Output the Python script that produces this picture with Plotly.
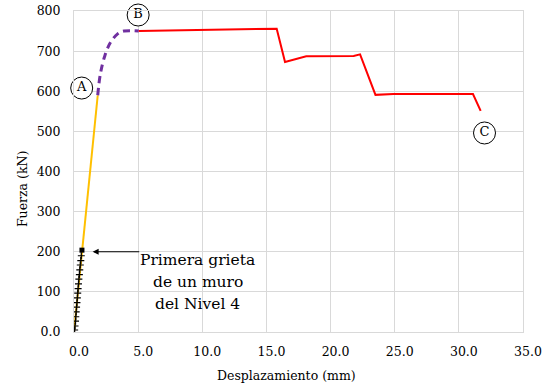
import plotly.graph_objects as go

# Elastic branch (first cracking up to point A)
elastic_disp = [0.0, 0.62, 1.85]
elastic_force = [0, 203, 590]

# Readings up to the first crack in a Level 4 wall
crack_disp = [0.05, 0.08, 0.12, 0.14, 0.17, 0.20, 0.23, 0.26, 0.29, 0.32,
              0.35, 0.38, 0.42, 0.45, 0.49, 0.53, 0.57]
crack_force = [5, 15, 27, 38, 50, 62, 73, 85, 97, 108,
               120, 132, 143, 155, 167, 178, 190]
first_crack_disp = [0.62]
first_crack_force = [204]

# Hardening branch A -> B
hard_disp = [1.85, 2.05, 2.4, 2.85, 3.4, 3.9, 5.05]
hard_force = [590, 642, 688, 722, 743, 750, 750]

# Post-peak branch B -> C
post_disp = [5.05, 10.0, 15.8, 16.45, 18.1, 21.8, 22.3, 23.5, 24.9, 31.1, 31.7]
post_force = [750, 753, 756, 673, 687, 688, 692, 591, 593, 593, 551]

# Point labels
point_names = ["A", "B", "C"]
point_disp = [0.6, 5.0, 32.0]
point_force = [608, 790, 496]

x_ticks = [0, 5, 10, 15, 20, 25, 30, 35]
x_ticktext = ["0.0", "5.0", "10.0", "15.0", "20.0", "25.0", "30.0", "35.0"]
y_ticks = [0, 100, 200, 300, 400, 500, 600, 700, 800]
y_ticktext = ["0.0", "100", "200", "300", "400", "500", "600", "700", "800"]

note_lines = ["Primera grieta", "de un muro", "del Nivel 4"]
x_title = "Desplazamiento (mm)"
y_title = "Fuerza (kN)"

SERIF = "DejaVu Serif"
GRID = "#d9d9d9"
TICK_SIZE = 12.5

fig = go.Figure()

fig.add_trace(go.Scatter(x=elastic_disp, y=elastic_force, mode="lines",
                         line=dict(color="#FFC000", width=2), hoverinfo="skip"))
fig.add_trace(go.Scatter(x=hard_disp, y=hard_force, mode="lines",
                         line=dict(color="#7030A0", width=3, dash="7px,5px", shape="spline"),
                         hoverinfo="skip"))
fig.add_trace(go.Scatter(x=post_disp, y=post_force, mode="lines",
                         line=dict(color="#FF0000", width=2), hoverinfo="skip"))
fig.add_trace(go.Scatter(x=crack_disp, y=crack_force, mode="markers",
                         marker=dict(symbol="cross-thin", size=5,
                                     line=dict(color="black", width=1.2)),
                         hoverinfo="skip"))
fig.add_trace(go.Scatter(x=first_crack_disp, y=first_crack_force, mode="markers",
                         marker=dict(symbol="square", size=5, color="black"),
                         hoverinfo="skip"))
fig.add_trace(go.Scatter(x=point_disp, y=point_force, mode="markers+text",
                         text=point_names, textposition="middle center",
                         textfont=dict(family=SERIF, size=13, color="black"),
                         marker=dict(symbol="circle", size=22, color="white",
                                     line=dict(color="black", width=1)),
                         hoverinfo="skip", cliponaxis=False))

# Arrow pointing to the first crack
fig.add_annotation(x=1.45, y=200, ax=5.2, ay=200, xref="x", yref="y",
                   axref="x", ayref="y", text="", showarrow=True,
                   arrowhead=2, arrowsize=1.2, arrowwidth=1, arrowcolor="black")

# Note text, one line per annotation
for i, line in enumerate(note_lines):
    fig.add_annotation(x=9.65, y=180 - i * 55, xref="x", yref="y", text=line,
                       showarrow=False, xanchor="center", yanchor="middle",
                       font=dict(family=SERIF, size=15.5, color="black"))

# Axis titles
fig.add_annotation(x=0.474, y=-0.134, xref="paper", yref="paper", text=x_title,
                   showarrow=False, xanchor="center", yanchor="middle",
                   font=dict(family=SERIF, size=TICK_SIZE, color="black"))
fig.add_annotation(x=-0.116, y=0.445, xref="paper", yref="paper", text=y_title,
                   showarrow=False, xanchor="center", yanchor="middle", textangle=-90,
                   font=dict(family=SERIF, size=TICK_SIZE, color="black"))

fig.update_layout(
    width=544, height=387,
    margin=dict(l=74, r=21, t=11, b=55, autoexpand=False),
    paper_bgcolor="white", plot_bgcolor="white",
    showlegend=False,
    font=dict(family=SERIF, color="black"),
)

fig.update_xaxes(
    range=[0, 35], tickvals=x_ticks, ticktext=x_ticktext,
    showgrid=True, gridcolor=GRID, gridwidth=1,
    showline=True, linecolor=GRID, linewidth=1, mirror=True,
    zeroline=False, ticks="", ticklabelshift=5, ticklabelstandoff=8,
    ticklabeloverflow="allow", automargin=False,
    tickfont=dict(family=SERIF, size=TICK_SIZE, color="black"),
)
fig.update_yaxes(
    range=[0, 800], tickvals=y_ticks, ticktext=y_ticktext,
    showgrid=True, gridcolor=GRID, gridwidth=1,
    showline=True, linecolor=GRID, linewidth=1, mirror=True,
    zeroline=False, ticks="", ticklabelstandoff=10,
    ticklabeloverflow="allow", automargin=False,
    tickfont=dict(family=SERIF, size=TICK_SIZE, color="black"),
)

fig.write_html("out.html")
